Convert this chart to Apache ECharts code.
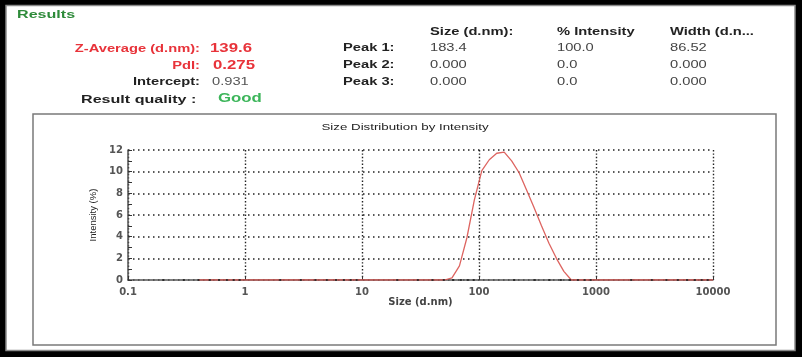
<!DOCTYPE html>
<html><head><meta charset="utf-8">
<script src="https://cdn.jsdelivr.net/npm/echarts@6/dist/echarts.min.js"></script>
<style>html,body{margin:0;padding:0;background:#000}#c{width:802px;height:357px}</style>
</head><body><div id="c"></div>
<script>
// ---- data ----
const sizes = [0.4,0.4632,0.5365,0.6213,0.7195,0.8332,0.9649,1.117,1.294,1.499,1.736,2.010,2.328,2.696,3.122,3.615,4.187,4.849,5.615,6.503,7.531,8.721,10.10,11.70,13.54,15.69,18.17,21.04,24.36,28.21,32.67,37.84,43.82,50.75,58.77,68.06,78.82,91.28,105.7,122.4,141.8,164.2,190.1,220.2,255.0,295.3,342.0,396.1,458.7,531.2,615.1,712.4,825.0,955.4,1106,1281,1484,1718,1990,2305,2669,3091,3580,4145,4801,5560,6439,7456,8635,10000];
const intensity = [0,0,0,0,0,0,0,0,0,0,0,0,0,0,0,0,0,0,0,0,0,0,0,0,0,0,0,0,0,0,0,0,0,0,0.2,1.3,3.9,7.4,10.1,11.1,11.7,11.8,11.0,9.9,8.3,6.7,5.0,3.4,2.0,0.8,0,0,0,0,0,0,0,0,0,0,0,0,0,0,0,0,0,0,0,0];
const xTickLabels = ['0.1','1','10','100','1000','10000'];
const yTickLabels = ['0','2','4','6','8','10','12'];
const minorTickValues = [0.2,0.3,0.4,0.5,0.6,0.7,0.8,0.9,2,3,4,5,6,7,8,9,20,30,40,50,60,70,80,90,200,300,400,500,600,700,800,900,2000,3000,4000,5000,6000,7000,8000,9000];
const chartTitle = 'Size Distribution by Intensity';
const xName = 'Size (d.nm)';
const yName = 'Intensity (%)';
const resultsLeft = [
  ['Z-Average (d.nm):', '139.6'],
  ['PdI:', '0.275'],
  ['Intercept:', '0.931']
];
const peakNames = ['Peak 1:', 'Peak 2:', 'Peak 3:'];
const peakHeaders = ['Size (d.nm):', '% Intensity', 'Width (d.n...'];
const peakValues = [
  ['183.4', '100.0', '86.52'],
  ['0.000', '0.0', '0.000'],
  ['0.000', '0.0', '0.000']
];
const qualityLabel = 'Result quality :';
const qualityValue = 'Good';

// ---- drawing ----
const SX = 1.4;
function txt(x, y, text, font, fill, align) {
  return { type: 'text', x: x, y: y, scaleX: SX, z: 5,
    style: { text: text, font: font, fill: fill, align: align || 'left', verticalAlign: 'middle' } };
}
const BF = 'bold 10.5px "Liberation Sans"';
const RF = '10.5px "Liberation Sans"';
const graphics = [
  { type: 'rect', z: -10, shape: { x: 6, y: 5.5, width: 789, height: 345 }, style: { fill: '#fff', stroke: '#8a8a8a', lineWidth: 1.5 } },
  { type: 'rect', z: -9, shape: { x: 33, y: 114, width: 743, height: 231 }, style: { fill: 'none', stroke: '#7a7a7a', lineWidth: 1.5 } },
  txt(17, 15, 'Results', 'bold 11.5px "Liberation Sans"', '#2e8b3a'),
  txt(200, 49, resultsLeft[0][0], BF, '#e8333a', 'right'),
  txt(210, 49, resultsLeft[0][1], 'bold 12px "Liberation Sans"', '#e8333a'),
  txt(200, 66, resultsLeft[1][0], BF, '#e8333a', 'right'),
  txt(213, 66, resultsLeft[1][1], 'bold 12px "Liberation Sans"', '#e8333a'),
  txt(200, 82, resultsLeft[2][0], BF, '#222', 'right'),
  txt(212, 82, resultsLeft[2][1], RF, '#555'),
  txt(81, 100, qualityLabel, 'bold 11.5px "Liberation Sans"', '#222'),
  txt(218, 99, qualityValue, 'bold 12px "Liberation Sans"', '#3cb55a'),
  txt(405, 127, chartTitle, '9.5px "Liberation Sans"', '#222', 'center')
];
const colX = [430, 557, 670];
peakNames.forEach((p, i) => graphics.push(txt(343, 48 + i * 17, p, BF, '#222')));
peakHeaders.forEach((h, j) => graphics.push(txt(colX[j], 32, h, BF, '#222')));
peakValues.forEach((row, i) => row.forEach((v, j) => graphics.push(txt(colX[j], 48 + i * 17, v, RF, '#444'))));

const chart = echarts.init(document.getElementById('c'), null, { renderer: 'canvas' });
chart.setOption({
  backgroundColor: '#000',
  animation: false,
  graphic: graphics,
  grid: { left: 128, right: 89, top: 150, bottom: 77, containLabel: false },
  xAxis: {
    type: 'log', logBase: 10, min: 0.1, max: 10000,
    name: xName, nameLocation: 'middle', nameGap: 17,
    nameTextStyle: { fontFamily: 'DejaVu Sans', fontWeight: 'bold', fontSize: 10, color: '#444' },
    axisLine: { show: true, lineStyle: { color: '#555', width: 1.5 } },
    axisTick: { show: true, inside: true, length: 4, lineStyle: { color: '#333' } },
    axisLabel: { margin: 7, fontFamily: 'DejaVu Sans', fontWeight: 'bold', fontSize: 10, color: '#555',
      formatter: v => xTickLabels[Math.round(Math.log10(v)) + 1] },
    splitLine: { show: true, lineStyle: { color: '#222', width: 1.4, type: [1.4, 2] } }
  },
  yAxis: {
    type: 'value', min: 0, max: 12, interval: 2,
    name: yName, nameLocation: 'middle', nameGap: 29,
    nameTextStyle: { fontFamily: 'Liberation Sans', fontSize: 9.5, color: '#222' },
    axisLine: { show: true, lineStyle: { color: '#555', width: 1.5 } },
    axisTick: { show: true, inside: true, length: 4, lineStyle: { color: '#333' } },
    minorTick: { show: true, splitNumber: 2, length: 4, lineStyle: { color: '#333' } },
    axisLabel: { margin: 5, fontFamily: 'DejaVu Sans', fontWeight: 'bold', fontSize: 10, color: '#555',
      formatter: v => yTickLabels[Math.round(v / 2)] },
    splitLine: { show: true, lineStyle: { color: '#222', width: 1.5, type: [1.5, 3.5] } }
  },
  series: [
    { type: 'line', data: sizes.map((s, i) => [s, intensity[i]]), showSymbol: false,
      lineStyle: { color: '#d9534f', width: 1.3, opacity: 0.9 }, z: 3 },
    { type: 'scatter', data: minorTickValues.map(v => [v, 0]), symbol: 'rect', symbolSize: [2, 2],
      itemStyle: { color: '#222' }, z: 4, silent: true }
  ]
});
</script></body></html>
